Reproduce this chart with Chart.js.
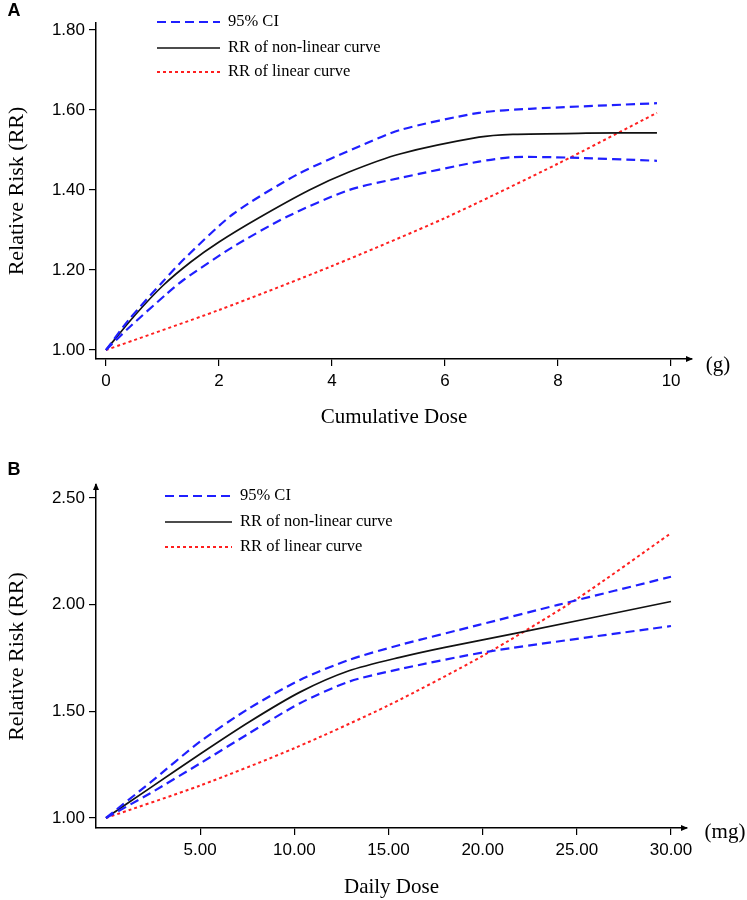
<!DOCTYPE html>
<html>
<head>
<meta charset="utf-8">
<script src="https://cdn.jsdelivr.net/npm/chart.js@4.4.0/dist/chart.umd.min.js"></script>
<style>
  body { margin: 0; background: #fff; }
  .panel { position: relative; width: 747px; height: 450px; }
</style>
</head>
<body>
<div class="panel"><canvas id="chart-a" width="747" height="450"></canvas></div>
<div class="panel"><canvas id="chart-b" width="747" height="450"></canvas></div>
<script>
// Panel A: cumulative dose (g)
const cumDoseRR = [0, 0.5, 1, 1.5, 2, 2.7, 3.6, 4.3, 5.2, 6.6, 7.2, 8.5, 9.75];
const cumRR = [1.00, 1.085, 1.16, 1.22, 1.27, 1.33, 1.40, 1.445, 1.49, 1.532, 1.539, 1.542, 1.543];
const cumDoseUpper = [0, 0.4, 1, 1.4, 2.25, 3.4, 4.5, 5.2, 6.6, 7.5, 9.75];
const cumUpper = [1.00, 1.075, 1.17, 1.23, 1.34, 1.44, 1.51, 1.55, 1.593, 1.603, 1.617];
const cumDoseLower = [0, 0.4, 1.07, 1.37, 2.25, 3.2, 4.3, 5.2, 6.6, 7.2, 8.2, 9.75];
const cumLower = [1.00, 1.055, 1.14, 1.175, 1.258, 1.333, 1.40, 1.43, 1.471, 1.482, 1.481, 1.473];
const cumDoseLinear = [0, 2, 4, 6, 8, 9.75];
const cumLinear = [1.00, 1.10, 1.21, 1.33, 1.466, 1.593];
const cumXTicks = [0, 2, 4, 6, 8, 10];
const cumYTicks = [1.00, 1.20, 1.40, 1.60, 1.80];

// Panel B: daily dose (mg)
const dayDoseRR = [0, 2.33, 5, 7.6, 10.3, 12.9, 15.6, 18, 22, 30];
const dayRR = [1.00, 1.14, 1.30, 1.45, 1.59, 1.69, 1.753, 1.80, 1.87, 2.015];
const dayDoseUpper = [0, 2.33, 5, 7.6, 10.3, 12.9, 15.6, 19.8, 24, 30];
const dayUpper = [1.00, 1.165, 1.358, 1.514, 1.647, 1.741, 1.811, 1.905, 1.999, 2.131];
const dayDoseLower = [0, 2.33, 5, 7.6, 10.3, 12.9, 15.6, 20.3, 30];
const dayLower = [1.00, 1.115, 1.256, 1.397, 1.538, 1.639, 1.698, 1.78, 1.90];
const dayDoseLinear = [0, 5, 10, 15, 20, 25, 30];
const dayLinear = [1.00, 1.152, 1.327, 1.528, 1.760, 2.027, 2.335];
const dayXTicks = [5, 10, 15, 20, 25, 30];
const dayYTicks = [1.00, 1.50, 2.00, 2.50];

const BLUE = '#1f1fff';
const RED = '#ff1f1f';

function pts(xs, ys) {
  return xs.map((x, i) => ({ x: x, y: ys[i] }));
}

function makeDatasets(curve, upper, lower, linear) {
  const base = { pointRadius: 0, fill: false, tension: 0.25 };
  return [
    Object.assign({ label: '95% CI', data: upper, borderColor: BLUE, borderWidth: 2.2, borderDash: [9, 5], legendRow: 0 }, base),
    Object.assign({ label: '95% CI', data: lower, borderColor: BLUE, borderWidth: 2.2, borderDash: [9, 5] }, base),
    Object.assign({ label: 'RR of non-linear curve', data: curve, borderColor: '#111', borderWidth: 1.7, legendRow: 1 }, base),
    Object.assign({ label: 'RR of linear curve', data: linear, borderColor: RED, borderWidth: 2, borderDash: [3, 3], legendRow: 2 }, base)
  ];
}

// arrows, unit label, panel letter and legend
const decor = {
  id: 'decor',
  afterDraw(chart, args, opts) {
    const ctx = chart.ctx;
    const a = chart.chartArea;
    ctx.save();
    ctx.fillStyle = '#000';
    ctx.beginPath();
    ctx.moveTo(a.right + 1, a.bottom);
    ctx.lineTo(a.right - 6, a.bottom - 3);
    ctx.lineTo(a.right - 6, a.bottom + 3);
    ctx.closePath();
    ctx.fill();
    if (opts.yArrow) {
      ctx.beginPath();
      ctx.moveTo(a.left, a.top - 2);
      ctx.lineTo(a.left - 3, a.top + 5);
      ctx.lineTo(a.left + 3, a.top + 5);
      ctx.closePath();
      ctx.fill();
    }
    ctx.textAlign = 'center';
    ctx.textBaseline = 'middle';
    ctx.font = '21px "Liberation Serif"';
    ctx.fillText(opts.unit, opts.unitX, a.bottom + opts.unitDy);
    ctx.font = 'bold 18px "Liberation Sans"';
    ctx.fillText(opts.letter, 14, opts.letterY);

    ctx.font = '16.5px "Liberation Serif"';
    ctx.textAlign = 'left';
    chart.data.datasets.forEach(ds => {
      if (ds.legendRow === undefined) return;
      const y = opts.legendY[ds.legendRow];
      ctx.strokeStyle = ds.borderColor;
      ctx.lineWidth = ds.borderWidth;
      ctx.setLineDash(ds.borderDash || []);
      ctx.beginPath();
      ctx.moveTo(opts.legendX0, y);
      ctx.lineTo(opts.legendX1, y);
      ctx.stroke();
      ctx.setLineDash([]);
      ctx.fillStyle = '#000';
      ctx.fillText(ds.label, opts.legendX1 + 8, y);
    });
    ctx.restore();
  }
};

function makeOptions(cfg) {
  const tickFont = { family: 'Liberation Sans', size: 17 };
  return {
    responsive: false,
    animation: false,
    layout: { padding: { left: 0, top: cfg.top, right: cfg.right, bottom: 0 } },
    plugins: {
      legend: { display: false },
      tooltip: { enabled: false },
      decor: cfg.decor
    },
    scales: {
      x: {
        type: 'linear',
        min: cfg.xMin,
        max: cfg.xMax,
        afterBuildTicks: s => { s.ticks = cfg.xTicks.map(v => ({ value: v })); },
        afterFit: s => { s.height = cfg.xHeight; },
        ticks: {
          autoSkip: false, maxRotation: 0, color: '#000', font: tickFont, padding: 5,
          callback: v => v.toFixed(cfg.xDigits)
        },
        grid: { drawOnChartArea: false, color: '#000', tickLength: 7, lineWidth: 1.2 },
        border: { color: '#000', width: 1.5 },
        title: { display: true, text: cfg.xTitle, color: '#000', font: { family: 'Liberation Serif', size: 21 }, padding: { top: 0, bottom: cfg.xTitlePad } }
      },
      y: {
        min: cfg.yMin,
        max: cfg.yMax,
        afterBuildTicks: s => { s.ticks = cfg.yTicks.map(v => ({ value: v })); },
        afterFit: s => { s.width = 96; },
        ticks: {
          color: '#000', font: tickFont, padding: 4,
          callback: v => v.toFixed(2)
        },
        grid: { drawOnChartArea: false, color: '#000', tickLength: 7, lineWidth: 1.2 },
        border: { color: '#000', width: 1.5 },
        title: { display: true, text: 'Relative Risk (RR)', color: '#000', font: { family: 'Liberation Serif', size: 22 }, padding: { top: 4, bottom: 0 } }
      }
    }
  };
}

new Chart(document.getElementById('chart-a'), {
  type: 'line',
  data: {
    datasets: makeDatasets(pts(cumDoseRR, cumRR), pts(cumDoseUpper, cumUpper),
      pts(cumDoseLower, cumLower), pts(cumDoseLinear, cumLinear))
  },
  options: makeOptions({
    top: 23, right: 55, xHeight: 91,
    xMin: -0.177, xMax: 10.37, yMin: 0.9775, yMax: 1.8175,
    xTicks: cumXTicks, yTicks: cumYTicks, xDigits: 0,
    xTitle: 'Cumulative Dose', xTitlePad: 20,
    decor: { unit: '(g)', unitX: 718, unitDy: 6, letter: 'A', letterY: 11, yArrow: false,
      legendX0: 157, legendX1: 220, legendY: [22, 48, 72] }
  }),
  plugins: [decor]
});

new Chart(document.getElementById('chart-b'), {
  type: 'line',
  data: {
    datasets: makeDatasets(pts(dayDoseRR, dayRR), pts(dayDoseUpper, dayUpper),
      pts(dayDoseLower, dayLower), pts(dayDoseLinear, dayLinear))
  },
  options: makeOptions({
    top: 35, right: 60, xHeight: 72,
    xMin: -0.53, xMax: 30.85, yMin: 0.953, yMax: 2.561,
    xTicks: dayXTicks, yTicks: dayYTicks, xDigits: 2,
    xTitle: 'Daily Dose', xTitlePad: 0,
    decor: { unit: '(mg)', unitX: 725, unitDy: 4, letter: 'B', letterY: 20, yArrow: true,
      legendX0: 165, legendX1: 232, legendY: [46, 72, 97] }
  }),
  plugins: [decor]
});
</script>
</body>
</html>
